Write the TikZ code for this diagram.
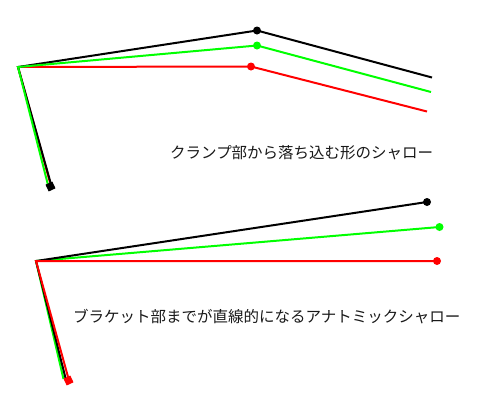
\documentclass[tikz,border=0pt]{standalone}
\usepackage{fontspec}
\newfontfamily\jp{Noto Sans CJK JP}
\begin{document}
\begin{tikzpicture}[x=1pt,y=-1pt,
  ln/.style={line width=2pt},
  dot/.style={circle,fill,inner sep=0pt,minimum size=8pt},
  sq/.style={rectangle,fill,inner sep=0pt,minimum size=7.5pt,rotate=25},
  lbl/.style={font=\jp\fontsize{15.5}{15.5}\selectfont,text=black!90,anchor=west,inner sep=0pt}]
\useasboundingbox (0,0) rectangle (480,416);
% top figure
\coordinate (p1) at (18,67);
\coordinate (kr1) at (51,186);
\coordinate (kb1) at (51.5,186);
\coordinate (kg1) at (48,185);
\node[dot,black] (b1) at (257,30.5) {};
\node[dot,green] (g1) at (257,45.5) {};
\node[dot,red] (r1) at (251,66.5) {};
\coordinate (be1) at (432,77.5);
\coordinate (ge1) at (431,92);
\coordinate (re1) at (427,111.5);
\draw[ln,red] (kr1) -- (p1) -- (r1.center) -- (re1);
\draw[ln,black] (kb1) -- (p1) -- (b1.center) -- (be1);
\draw[ln,green] (kg1) -- (p1) -- (g1.center) -- (ge1);
\node[sq,black] (m1) at (50.5,186.5) {};
\node[lbl] (t1) at (170,153) {クランプ部から落ち込む形のシャロー};
% bottom figure
\coordinate (p2) at (36,261);
\coordinate (kg2) at (63.5,379);
\coordinate (kb2) at (66,380);
\coordinate (kr2) at (69,380.5);
\node[dot,black] (b2) at (427,202) {};
\node[dot,green] (g2) at (439.5,227) {};
\node[dot,red] (r2) at (437,261) {};
\draw[ln,green] (kg2) -- (p2) -- (g2.center);
\draw[ln,black] (kb2) -- (p2) -- (b2.center);
\draw[ln,red] (kr2) -- (p2) -- (r2.center);
\node[sq,red] (m2) at (68.5,380.5) {};
\node[lbl] (t2) at (73,317) {ブラケット部までが直線的になるアナトミックシャロー};
\end{tikzpicture}
\end{document}
